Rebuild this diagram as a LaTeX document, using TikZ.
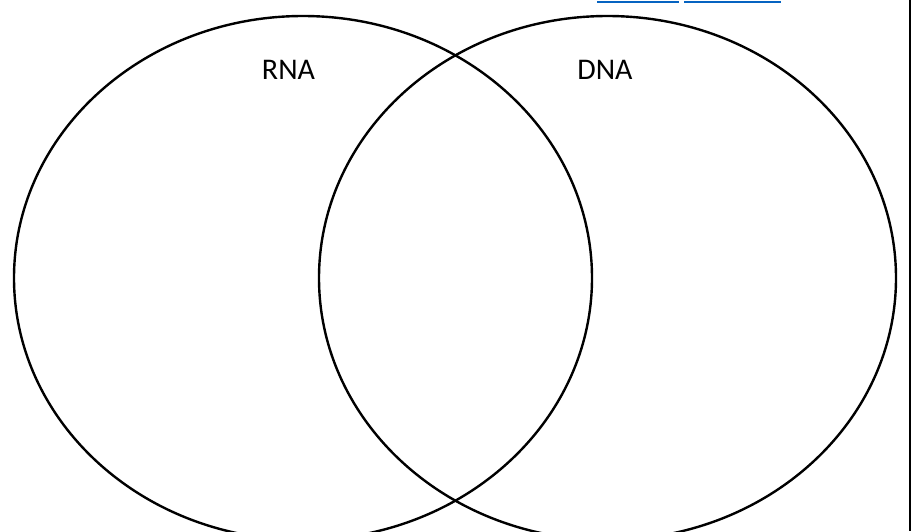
\documentclass[tikz,border=0pt]{standalone}
\usepackage{fontspec}
\setmainfont{Carlito}
\definecolor{linkblue}{RGB}{5,99,193}
\begin{document}
\begin{tikzpicture}[x=1pt,y=-1pt,
  circ/.style={draw=black,line width=2.4pt},
  lbl/.style={font=\fontsize{30}{36}\selectfont,inner sep=0pt},
  link/.style={draw=linkblue,line width=2pt}]
\useasboundingbox (0,0) rectangle (913,531);
\begin{scope}
\clip (0,0) rectangle (913,531);
\draw[circ] (303,278) ellipse [x radius=289, y radius=262];
\draw[circ] (607.5,278) ellipse [x radius=288.5, y radius=262];
\end{scope}
\node[lbl] (rna) at (288.5,70) {RNA};
\node[lbl] (dna) at (605,70) {DNA};
\coordinate (l1a) at (597,1.5); \coordinate (l1b) at (679,1.5);
\coordinate (l2a) at (684,1.5); \coordinate (l2b) at (781,1.5);
\draw[link] (l1a) -- (l1b);
\draw[link] (l2a) -- (l2b);
\coordinate (bt) at (910,0); \coordinate (bb) at (910,531);
\draw[line width=2.4pt] (bt) -- (bb);
\end{tikzpicture}
\end{document}
